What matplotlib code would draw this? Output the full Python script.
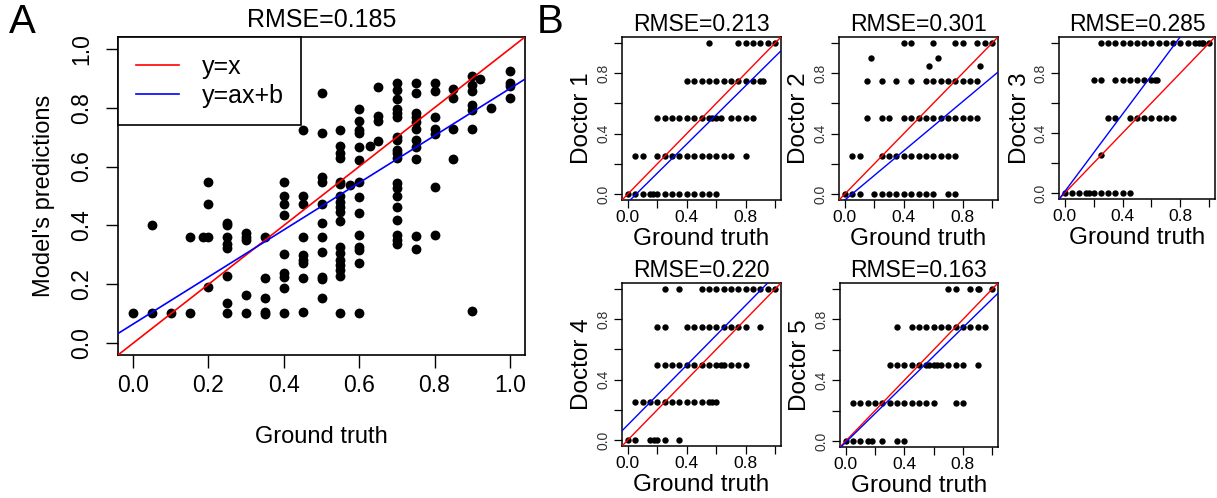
import matplotlib
matplotlib.use('Agg')
import matplotlib.pyplot as plt
import numpy as np

plt.rcParams['font.family'] = ['Liberation Sans', 'DejaVu Sans']

# ---------------- Panel A data ----------------
a_truth = [0.00,
           0.05, 0.05,
           0.10,
           0.15, 0.15,
           0.185,
           0.20, 0.20, 0.20, 0.20,
           0.25, 0.25, 0.25, 0.25, 0.25, 0.25, 0.25, 0.25,
           0.30, 0.30, 0.30, 0.30, 0.30,
           0.35, 0.35, 0.35, 0.35, 0.35,
           0.40, 0.40, 0.40, 0.40, 0.40, 0.40, 0.40, 0.40, 0.40,
           0.45, 0.45, 0.45, 0.45, 0.45, 0.45, 0.45, 0.45, 0.45,
           0.50, 0.50, 0.50, 0.50, 0.50, 0.50, 0.50, 0.50, 0.50, 0.50, 0.50,
           0.55, 0.55, 0.55, 0.55, 0.55, 0.55, 0.55, 0.55, 0.55, 0.55, 0.55, 0.55, 0.55, 0.55, 0.55, 0.55, 0.55, 0.55,
           0.575,
           0.60, 0.60, 0.60, 0.60, 0.60, 0.60, 0.60, 0.60, 0.60, 0.60, 0.60, 0.60, 0.60, 0.60,
           0.63,
           0.65, 0.65, 0.65, 0.65,
           0.70, 0.70, 0.70, 0.70, 0.70, 0.70, 0.70, 0.70, 0.70, 0.70, 0.70, 0.70, 0.70, 0.70, 0.70, 0.70, 0.70, 0.70, 0.70,
           0.75, 0.75, 0.75, 0.75, 0.75, 0.75, 0.75, 0.75, 0.75, 0.75, 0.75,
           0.80, 0.80, 0.80, 0.80, 0.80, 0.80, 0.80,
           0.85, 0.85, 0.85, 0.85,
           0.90, 0.90, 0.90, 0.90, 0.90, 0.90, 0.90,
           0.92,
           0.95,
           1.00, 1.00, 1.00, 1.00]
a_pred = [0.102,
          0.102, 0.401,
          0.102,
          0.102, 0.362,
          0.362,
          0.362, 0.474, 0.546, 0.192,
          0.409, 0.401, 0.362, 0.338, 0.324, 0.228, 0.137, 0.102,
          0.373, 0.362, 0.350, 0.163, 0.102,
          0.362, 0.222, 0.154, 0.106, 0.098,
          0.546, 0.501, 0.474, 0.435, 0.303, 0.237, 0.226, 0.186, 0.102,
          0.724, 0.501, 0.474, 0.362, 0.299, 0.282, 0.271, 0.222, 0.107,
          0.849, 0.715, 0.563, 0.549, 0.474, 0.409, 0.362, 0.310, 0.226, 0.217, 0.154,
          0.724, 0.670, 0.647, 0.628, 0.549, 0.540, 0.501, 0.481, 0.464, 0.447, 0.416, 0.327, 0.305, 0.282, 0.265, 0.248, 0.228, 0.102,
          0.537,
          0.796, 0.756, 0.724, 0.715, 0.666, 0.622, 0.546, 0.498, 0.442, 0.368, 0.327, 0.316, 0.272, 0.104,
          0.670,
          0.870, 0.770, 0.756, 0.687,
          0.885, 0.861, 0.829, 0.796, 0.781, 0.768, 0.702, 0.690, 0.656, 0.645, 0.628, 0.545, 0.526, 0.501, 0.464, 0.418, 0.367, 0.350, 0.337,
          0.885, 0.851, 0.781, 0.768, 0.753, 0.727, 0.690, 0.666, 0.625, 0.365, 0.319,
          0.883, 0.855, 0.768, 0.727, 0.711, 0.532, 0.368,
          0.863, 0.832, 0.728, 0.625,
          0.906, 0.878, 0.857, 0.810, 0.792, 0.727, 0.109,
          0.898,
          0.798,
          0.926, 0.885, 0.872, 0.834]
a_rmse = 0.185
a_slope = 0.80
a_intercept = 0.065

# ---------------- Panel B data ----------------
doctor_names = ['Doctor 1', 'Doctor 2', 'Doctor 3', 'Doctor 4', 'Doctor 5']
doctor_rmse = [0.213, 0.301, 0.285, 0.220, 0.163]
doctor_slope = [0.965, 0.815, 1.29, 0.99, 0.943]
doctor_intercept = [-0.055, -0.04, 0.01, 0.10, -0.008]

doc1_truth = [0.55, 0.75, 0.80, 0.85, 0.90, 0.95, 1.00,
              0.40, 0.45, 0.50, 0.55, 0.60, 0.65, 0.70, 0.75, 0.80, 0.85, 0.90, 0.92,
              0.20, 0.25, 0.30, 0.35, 0.40, 0.45, 0.50, 0.55, 0.57, 0.60, 0.63, 0.70, 0.75, 0.80, 0.85,
              0.05, 0.10, 0.20, 0.25, 0.30, 0.35, 0.40, 0.45, 0.50, 0.55, 0.60, 0.65, 0.70, 0.80,
              0.00, 0.05, 0.10, 0.15, 0.17, 0.20, 0.25, 0.30, 0.35, 0.40, 0.45, 0.50, 0.55, 0.60]
doc1_rating = [1.0, 1.0, 1.0, 1.0, 1.0, 1.0, 1.0,
               0.75, 0.75, 0.75, 0.75, 0.75, 0.75, 0.75, 0.75, 0.75, 0.75, 0.75, 0.75,
               0.5, 0.5, 0.5, 0.5, 0.5, 0.5, 0.5, 0.5, 0.5, 0.5, 0.5, 0.5, 0.5, 0.5, 0.5,
               0.25, 0.25, 0.25, 0.25, 0.25, 0.25, 0.25, 0.25, 0.25, 0.25, 0.25, 0.25, 0.25, 0.25,
               0.0, 0.0, 0.0, 0.0, 0.0, 0.0, 0.0, 0.0, 0.0, 0.0, 0.0, 0.0, 0.0, 0.0]

doc2_truth = [0.40, 0.45, 0.60, 0.75, 0.80, 0.90, 0.95, 1.00,
              0.18, 0.63,
              0.57, 0.92,
              0.15, 0.25, 0.35, 0.45, 0.55, 0.60, 0.65, 0.70, 0.75, 0.80, 0.85, 0.90,
              0.15, 0.25, 0.30, 0.40, 0.45, 0.50, 0.55, 0.60, 0.65, 0.70, 0.75, 0.80, 0.85, 0.90,
              0.05, 0.10, 0.25, 0.30, 0.35, 0.40, 0.45, 0.50, 0.55, 0.60, 0.65, 0.70, 0.75,
              0.00, 0.05, 0.10, 0.20, 0.25, 0.30, 0.35, 0.40, 0.45, 0.50, 0.55, 0.60, 0.70, 0.75]
doc2_rating = [1.0, 1.0, 1.0, 1.0, 1.0, 1.0, 1.0, 1.0,
               0.9, 0.9,
               0.85, 0.85,
               0.75, 0.75, 0.75, 0.75, 0.75, 0.75, 0.75, 0.75, 0.75, 0.75, 0.75, 0.75,
               0.5, 0.5, 0.5, 0.5, 0.5, 0.5, 0.5, 0.5, 0.5, 0.5, 0.5, 0.5, 0.5, 0.5,
               0.25, 0.25, 0.25, 0.25, 0.25, 0.25, 0.25, 0.25, 0.25, 0.25, 0.25, 0.25, 0.25,
               0.0, 0.0, 0.0, 0.0, 0.0, 0.0, 0.0, 0.0, 0.0, 0.0, 0.0, 0.0, 0.0, 0.0]

doc3_truth = [0.25, 0.30, 0.35, 0.40, 0.45, 0.50, 0.55, 0.60, 0.65, 0.70, 0.75, 0.80, 0.85, 0.90, 0.93, 0.95, 0.96, 1.00,
              0.20, 0.25, 0.35, 0.40, 0.45, 0.50, 0.55, 0.60, 0.625, 0.64,
              0.30, 0.35, 0.45, 0.50, 0.55, 0.60, 0.65, 0.70, 0.75,
              0.25,
              0.00, 0.05, 0.10, 0.15, 0.17, 0.20, 0.25, 0.30, 0.35, 0.40, 0.45]
doc3_rating = [1.0, 1.0, 1.0, 1.0, 1.0, 1.0, 1.0, 1.0, 1.0, 1.0, 1.0, 1.0, 1.0, 1.0, 1.0, 1.0, 1.0, 1.0,
               0.75, 0.75, 0.75, 0.75, 0.75, 0.75, 0.75, 0.75, 0.75, 0.75,
               0.5, 0.5, 0.5, 0.5, 0.5, 0.5, 0.5, 0.5, 0.5,
               0.25,
               0.0, 0.0, 0.0, 0.0, 0.0, 0.0, 0.0, 0.0, 0.0, 0.0, 0.0]

doc4_truth = [0.25, 0.35, 0.50, 0.55, 0.60, 0.65, 0.70, 0.75, 0.80, 0.85, 0.90, 0.95, 1.00,
              0.20, 0.25, 0.40, 0.45, 0.50, 0.55, 0.60, 0.65, 0.70, 0.75, 0.80, 0.90,
              0.20, 0.25, 0.30, 0.35, 0.40, 0.45, 0.50, 0.55, 0.60, 0.63, 0.65, 0.70, 0.75, 0.80,
              0.05, 0.10, 0.15, 0.20, 0.25, 0.30, 0.35, 0.40, 0.45, 0.50, 0.55, 0.57, 0.60,
              0.00, 0.05, 0.15, 0.18, 0.20, 0.25, 0.35]
doc4_rating = [1.0, 1.0, 1.0, 1.0, 1.0, 1.0, 1.0, 1.0, 1.0, 1.0, 1.0, 1.0, 1.0,
               0.75, 0.75, 0.75, 0.75, 0.75, 0.75, 0.75, 0.75, 0.75, 0.75, 0.75, 0.75,
               0.5, 0.5, 0.5, 0.5, 0.5, 0.5, 0.5, 0.5, 0.5, 0.5, 0.5, 0.5, 0.5, 0.5,
               0.25, 0.25, 0.25, 0.25, 0.25, 0.25, 0.25, 0.25, 0.25, 0.25, 0.25, 0.25, 0.25,
               0.0, 0.0, 0.0, 0.0, 0.0, 0.0, 0.0]

doc5_truth = [0.70, 0.75, 0.85, 0.90, 0.91, 1.00,
              0.35, 0.45, 0.50, 0.55, 0.60, 0.65, 0.70, 0.75, 0.80, 0.85, 0.90, 0.95,
              0.30, 0.35, 0.40, 0.45, 0.50, 0.55, 0.57, 0.60, 0.625, 0.65, 0.70, 0.75, 0.80, 0.90,
              0.05, 0.10, 0.15, 0.20, 0.25, 0.30, 0.35, 0.40, 0.45, 0.50, 0.55, 0.60, 0.75, 0.80,
              0.00, 0.05, 0.10, 0.15, 0.18, 0.25, 0.35, 0.40]
doc5_rating = [1.0, 1.0, 1.0, 1.0, 1.0, 1.0,
               0.75, 0.75, 0.75, 0.75, 0.75, 0.75, 0.75, 0.75, 0.75, 0.75, 0.75, 0.75,
               0.5, 0.5, 0.5, 0.5, 0.5, 0.5, 0.5, 0.5, 0.5, 0.5, 0.5, 0.5, 0.5, 0.5,
               0.25, 0.25, 0.25, 0.25, 0.25, 0.25, 0.25, 0.25, 0.25, 0.25, 0.25, 0.25, 0.25, 0.25,
               0.0, 0.0, 0.0, 0.0, 0.0, 0.0, 0.0, 0.0]

doctor_truth = [doc1_truth, doc2_truth, doc3_truth, doc4_truth, doc5_truth]
doctor_rating = [doc1_rating, doc2_rating, doc3_rating, doc4_rating, doc5_rating]

a_ticks = [0.0, 0.2, 0.4, 0.6, 0.8, 1.0]
a_ticklabels = ['0.0', '0.2', '0.4', '0.6', '0.8', '1.0']
b_ticks = [0.0, 0.2, 0.4, 0.6, 0.8, 1.0]
b_ticklabels = ['0.0', '', '0.4', '', '0.8', '']

# ---------------- Figure ----------------
W, H = 1217, 498
fig = plt.figure(figsize=(W / 100, H / 100), dpi=100)


def px_axes(left, top, right, bottom):
    return fig.add_axes([left / W, 1 - bottom / H, (right - left) / W, (bottom - top) / H])


lim = (-0.04, 1.04)
line_x = np.array(lim)

# Panel A
ax = px_axes(118, 37, 525, 355)
ax.scatter(a_truth, a_pred, s=50, color='black', linewidths=0, zorder=3)
ax.plot(line_x, line_x, color='red', lw=1.2, label='y=x', zorder=4)
ax.plot(line_x, a_slope * line_x + a_intercept, color='blue', lw=1.2, label='y=ax+b', zorder=4)
ax.set_xlim(lim)
ax.set_ylim(lim)
ax.set_xticks(a_ticks)
ax.set_xticklabels(a_ticklabels)
ax.set_yticks(a_ticks)
ax.set_yticklabels(a_ticklabels, rotation=90, va='center')
ax.tick_params(axis='both', direction='out', length=9, width=1.0, labelsize=16.5, colors='black')
ax.tick_params(axis='x', pad=5)
ax.tick_params(axis='y', pad=9)
for sp in ax.spines.values():
    sp.set_linewidth(1.2)
ax.set_title(f'RMSE={a_rmse:.3f}', fontsize=18, pad=7)
ax.set_xlabel('Ground truth', fontsize=17)
ax.xaxis.label.set_va('baseline')
ax.xaxis.set_label_coords(0.5, -0.277)
ax.set_ylabel("Model's predictions", fontsize=17)
ax.yaxis.label.set_va('center')
ax.yaxis.set_label_coords(-0.183, 0.5)
leg = ax.legend(loc='upper left', bbox_to_anchor=(0, 1), borderaxespad=0, fancybox=False,
                edgecolor='black', framealpha=1, fontsize=18, handlelength=1.75,
                handletextpad=0.9, borderpad=0.7, labelspacing=0.2)
leg.get_frame().set_linewidth(1.2)
fig.text(22 / W, 1 - 22 / H, 'A', fontsize=29, ha='center', va='center')
fig.text(550 / W, 1 - 22 / H, 'B', fontsize=29, ha='center', va='center')

# Panel B
boxes = [(622, 37, 781, 200), (839, 37, 998, 200), (1059, 37, 1215, 199),
         (622, 283, 781, 446), (840, 283, 998, 447)]
for i in range(5):
    l, t, r, b = boxes[i]
    bx = px_axes(l, t, r, b)
    bx.scatter(doctor_truth[i], doctor_rating[i], s=21, color='black', linewidths=0, zorder=3)
    bx.plot(line_x, line_x, color='red', lw=1.0, zorder=4)
    bx.plot(line_x, doctor_slope[i] * line_x + doctor_intercept[i], color='blue', lw=1.0, zorder=4)
    bx.set_xlim(lim)
    bx.set_ylim(lim)
    bx.set_xticks(b_ticks)
    bx.set_xticklabels(b_ticklabels)
    bx.set_yticks(b_ticks)
    bx.set_yticklabels(b_ticklabels, rotation=90, va='center')
    bx.tick_params(axis='both', direction='out', length=6, width=0.9)
    bx.tick_params(axis='x', labelsize=12.5, pad=1.5)
    bx.tick_params(axis='y', labelsize=10, pad=2, labelcolor='#333333')
    for sp in bx.spines.values():
        sp.set_linewidth(1.1)
    bx.set_title(f'RMSE={doctor_rmse[i]:.3f}', fontsize=16.5, pad=4)
    bx.set_xlabel('Ground truth', fontsize=17.5)
    bx.xaxis.label.set_va('baseline')
    bx.xaxis.set_label_coords(0.5, -0.276)
    bx.set_ylabel(doctor_names[i], fontsize=17.5)
    bx.yaxis.label.set_va('center')
    bx.yaxis.set_label_coords(-0.25, 0.5)

fig.savefig('out.png', dpi=100)
